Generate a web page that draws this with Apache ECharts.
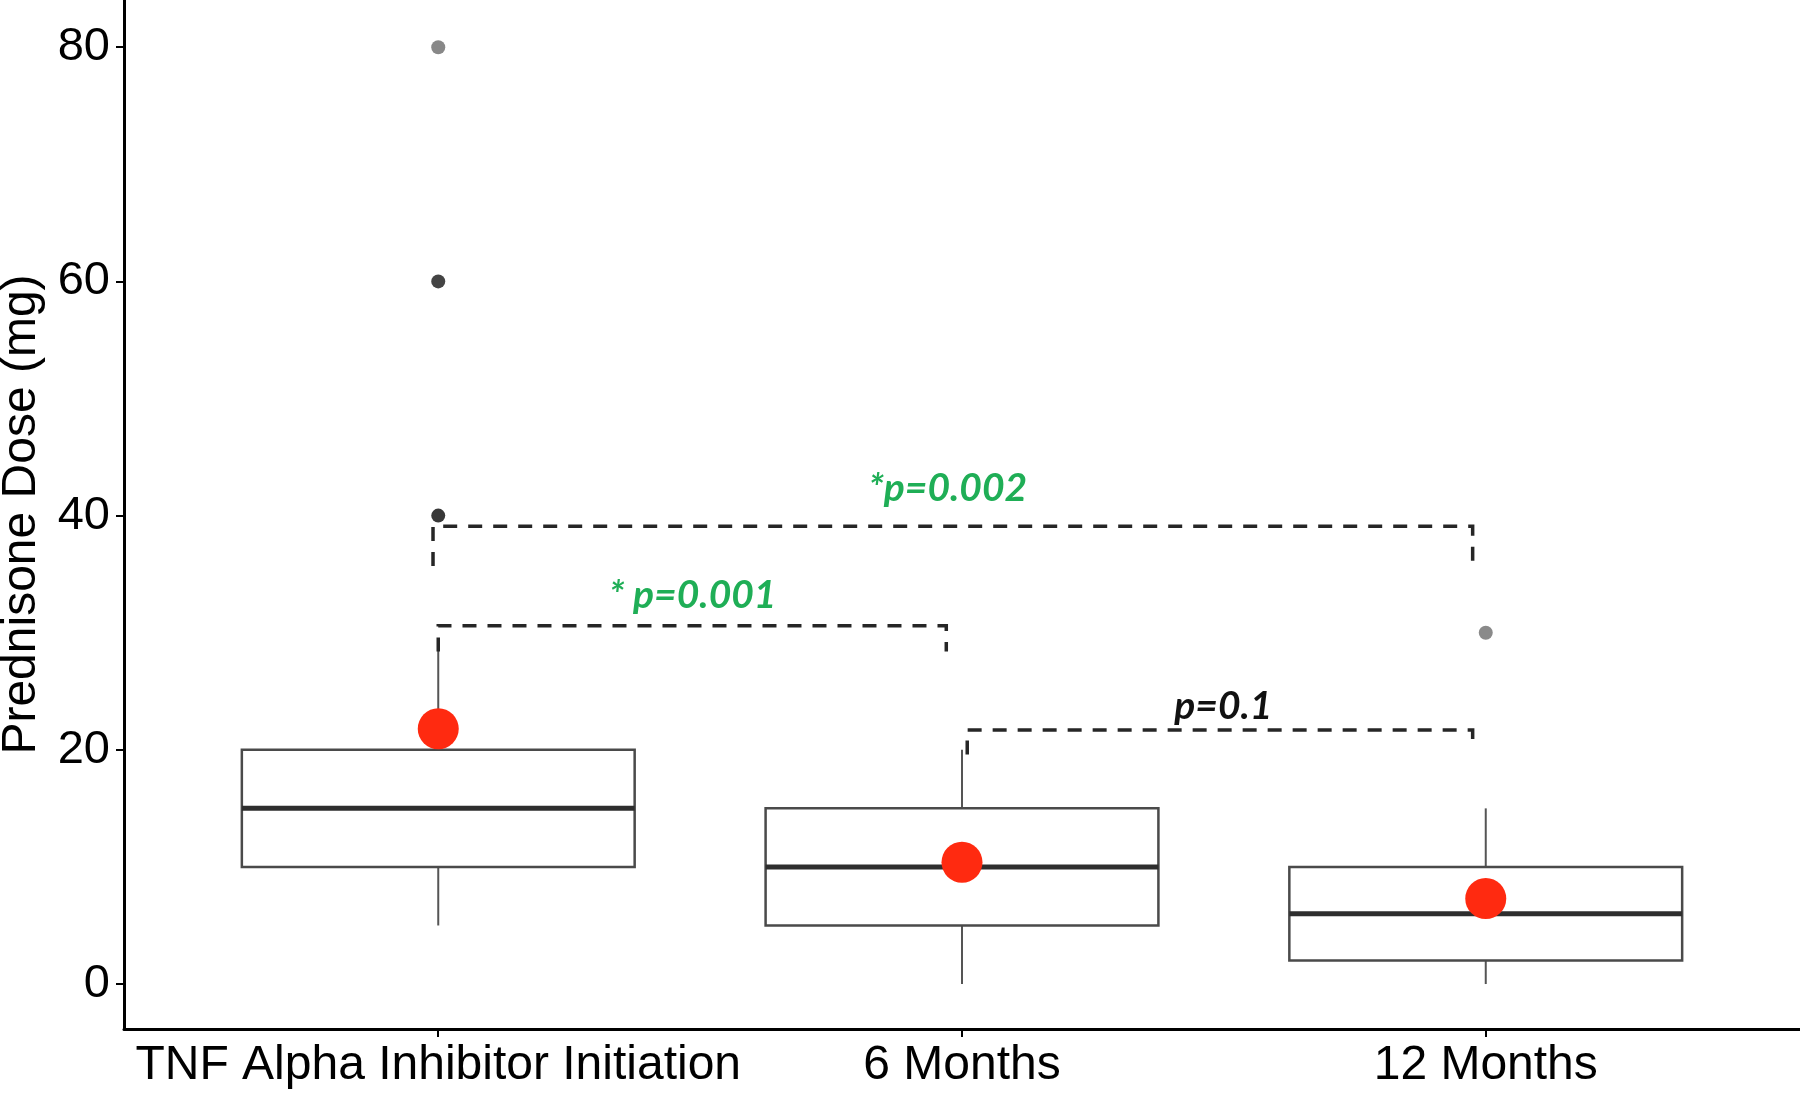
<!DOCTYPE html>
<html>
<head>
<meta charset="utf-8">
<script src="https://cdn.jsdelivr.net/npm/echarts@6/dist/echarts.min.js"></script>
<style>
  html, body { margin: 0; padding: 0; background: #fff; }
  #chart { width: 1800px; height: 1093px; }
</style>
</head>
<body>
<div id="chart"></div>
<script>
// ---- data ----
const categories = ['TNF Alpha Inhibitor Initiation', '6 Months', '12 Months'];
const whiskerLow = [5, 0, 0];
const q1 = [10, 5, 2];
const median = [15, 10, 6];
const q3 = [20, 15, 10];
const whiskerHigh = [28.5, 20, 15];
const means = [21.8, 10.4, 7.3];
const outlierGroup = [1, 1, 1, 3];
const outlierValue = [80, 60, 40, 30];
const yTicks = [0, 20, 40, 60, 80];

// pairwise comparisons (group positions of bracket ends, bracket height, leg ends)
const bracketStart = [1.0, 0.99, 2.01];
const bracketEnd = [1.97, 2.975, 2.975];
const bracketHeight = [30.6, 39.1, 21.7];
const legStartEnd = [28.4, 35.7, 19.6];
const legEndEnd = [28.4, 35.5, 20.0];
const pLabels = ['* p=0.001', '*p=0.002', 'p=0.1'];
const pLabelX = [1.486, 1.973, 2.499];
const pLabelY = [33.2, 42.3, 23.7];

// ---- styles ----
const outlierColors = ['#888888', '#444444', '#383838', '#8a8a8a'];
const pLabelColors = ['#1fae56', '#1fae56', '#111111'];
const FONT = '"Liberation Sans", Arial, sans-serif';

const boxData = categories.map((c, i) => [i + 1, whiskerLow[i], q1[i], median[i], q3[i], whiskerHigh[i]]);
const meanData = categories.map((c, i) => [i + 1, means[i]]);
const outlierData = outlierGroup.map((g, i) => ({ value: [g, outlierValue[i]], itemStyle: { color: outlierColors[i], opacity: 1 } }));
const bracketData = bracketStart.map((s, i) => [s, bracketEnd[i], bracketHeight[i], legStartEnd[i], legEndEnd[i]]);
const labelData = pLabels.map((t, i) => ({ value: [pLabelX[i], pLabelY[i]], name: t }));

const chart = echarts.init(document.getElementById('chart'), null, { renderer: 'canvas' });

const option = {
  backgroundColor: '#ffffff',
  animation: false,
  grid: { left: 124, right: 0, top: 0, bottom: 64, containLabel: false, outerBoundsMode: 'none' },
  xAxis: {
    type: 'value',
    min: 0.4,
    max: 3.6,
    splitLine: { show: false },
    axisLine: { show: true, onZero: false, lineStyle: { color: '#000', width: 3 } },
    axisTick: { show: true, customValues: [1, 2, 3], length: 8, lineStyle: { color: '#000', width: 2 } },
    axisLabel: {
      customValues: [1, 2, 3],
      formatter: v => categories[Math.round(v) - 1] || '',
      fontSize: 48, fontFamily: FONT, color: '#000', margin: 13
    }
  },
  yAxis: {
    type: 'value',
    min: -3.84,
    max: 84.03,
    name: 'Prednisone Dose (mg)',
    nameLocation: 'middle',
    nameRotate: 90,
    nameGap: 78,
    nameTextStyle: { fontSize: 48, fontFamily: FONT, color: '#000' },
    splitLine: { show: false },
    axisLine: { show: true, onZero: false, lineStyle: { color: '#000', width: 3 } },
    axisTick: { show: true, customValues: yTicks, length: 8, lineStyle: { color: '#000', width: 2 } },
    axisLabel: {
      customValues: yTicks,
      fontSize: 47, fontFamily: FONT, color: '#000', margin: 14
    }
  },
  series: [
    {
      type: 'custom',
      name: 'box',
      data: boxData,
      z: 2,
      renderItem: function (params, api) {
        const x = api.value(0);
        const lo = api.coord([x, api.value(1)]);
        const b1 = api.coord([x, api.value(2)]);
        const md = api.coord([x, api.value(3)]);
        const b3 = api.coord([x, api.value(4)]);
        const hi = api.coord([x, api.value(5)]);
        const half = api.size([0.75, 0])[0] / 2;
        const cx = lo[0];
        return {
          type: 'group',
          children: [
            { type: 'line', shape: { x1: cx, y1: lo[1], x2: cx, y2: b1[1] }, style: { stroke: '#555', lineWidth: 2 } },
            { type: 'line', shape: { x1: cx, y1: b3[1], x2: cx, y2: hi[1] }, style: { stroke: '#555', lineWidth: 2 } },
            { type: 'rect', shape: { x: cx - half, y: b3[1], width: 2 * half, height: b1[1] - b3[1] },
              style: { fill: '#fff', stroke: '#4a4a4a', lineWidth: 2.5 } },
            { type: 'line', shape: { x1: cx - half, y1: md[1], x2: cx + half, y2: md[1] },
              style: { stroke: '#2e2e2e', lineWidth: 5 } }
          ]
        };
      }
    },
    {
      type: 'scatter',
      name: 'outliers',
      data: outlierData,
      symbol: 'circle',
      symbolSize: 14,
      z: 3
    },
    {
      type: 'custom',
      name: 'brackets',
      data: bracketData,
      z: 4,
      renderItem: function (params, api) {
        const p0 = api.coord([api.value(0), api.value(3)]);
        const p1 = api.coord([api.value(0), api.value(2)]);
        const p2 = api.coord([api.value(1), api.value(2)]);
        const p3 = api.coord([api.value(1), api.value(4)]);
        return {
          type: 'polyline',
          shape: { points: [p0, p1, p2, p3] },
          style: { stroke: '#262626', lineWidth: 3.5, fill: null, lineDash: [14, 11] }
        };
      }
    },
    {
      type: 'scatter',
      name: 'mean',
      data: meanData,
      symbol: 'circle',
      symbolSize: 41,
      itemStyle: { color: '#ff2a10', opacity: 1 },
      z: 5
    },
    {
      type: 'custom',
      name: 'pvalues',
      data: labelData,
      z: 6,
      renderItem: function (params, api) {
        const p = api.coord([api.value(0), api.value(1)]);
        const i = params.dataIndex;
        return {
          type: 'text',
          x: p[0], y: p[1],
          style: {
            text: pLabels[i],
            fill: pLabelColors[i],
            font: 'italic bold 39px Lato, "Open Sans", sans-serif',
            align: 'center',
            verticalAlign: 'middle'
          }
        };
      }
    }
  ]
};
chart.setOption(option);
</script>
</body>
</html>
